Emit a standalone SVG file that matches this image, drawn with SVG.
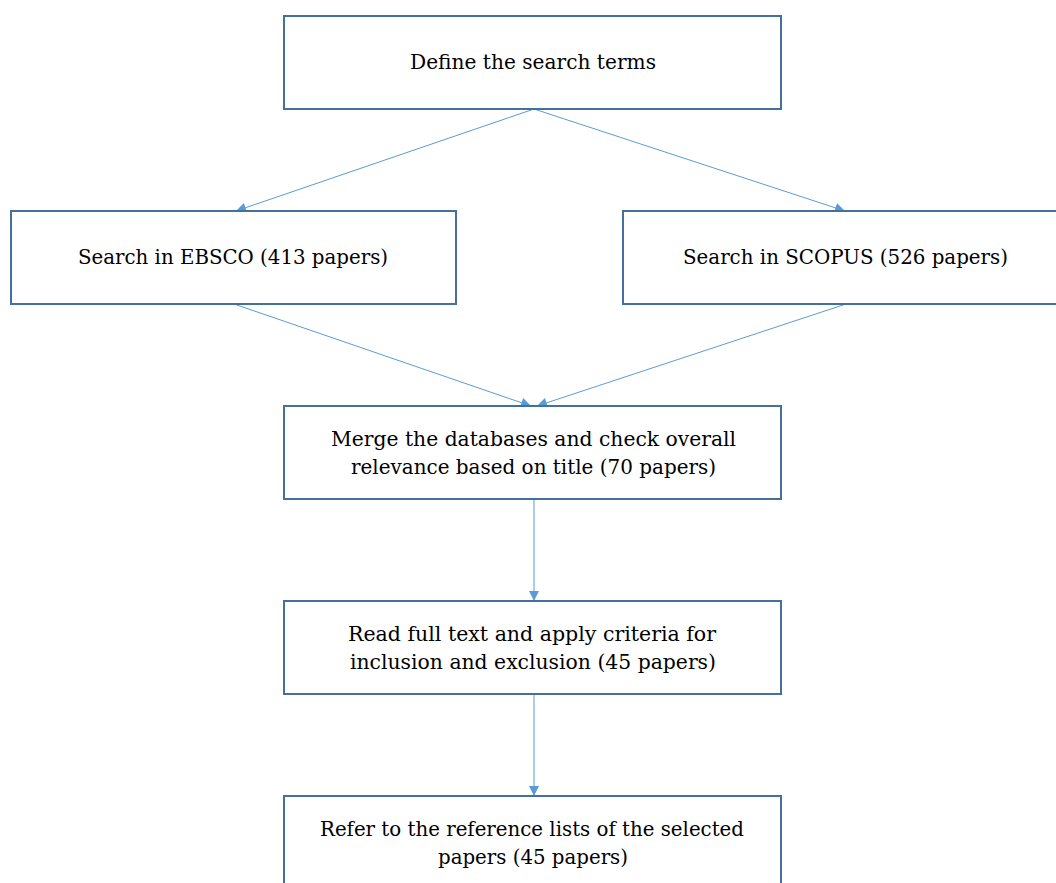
<svg xmlns="http://www.w3.org/2000/svg" width="1056" height="883" viewBox="0 0 1056 883">
<style>
.box{fill:#fff;stroke:#41719C;stroke-width:2}
.lbl{font-family:"DejaVu Serif","Liberation Serif",serif;font-size:19.5px;fill:#000;text-anchor:middle}
.con{stroke:#5B9BD5;stroke-width:1;fill:none;marker-end:url(#ah)}
</style>
<defs>
<marker id="ah" viewBox="0 0 10 10" refX="10" refY="5" markerWidth="11" markerHeight="10" markerUnits="userSpaceOnUse" orient="auto">
<path d="M0,0 L10,5 L0,10 Z" fill="#5B9BD5"/>
</marker>
</defs>
<rect width="1056" height="883" fill="#fff"/>
<g id="connectors">
<line class="con" x1="534" y1="109" x2="236" y2="211"/>
<line class="con" x1="534" y1="109" x2="845" y2="211"/>
<line class="con" x1="234" y1="304" x2="531" y2="406"/>
<line class="con" x1="846" y1="304" x2="537" y2="406"/>
<line class="con" x1="534" y1="499" x2="534" y2="601"/>
<line class="con" x1="534" y1="694" x2="534" y2="796"/>
</g>
<g id="n1"><rect class="box" x="284" y="16" width="497" height="93"/><text class="lbl" x="533" y="69" textLength="246" lengthAdjust="spacingAndGlyphs">Define the search terms</text></g>
<g id="n2"><rect class="box" x="11" y="211" width="445" height="93"/><text class="lbl" x="233" y="264" textLength="310" lengthAdjust="spacingAndGlyphs">Search in EBSCO (413 papers)</text></g>
<g id="n3"><rect class="box" x="623" y="211" width="440" height="93"/><text class="lbl" x="845.5" y="264" textLength="325" lengthAdjust="spacingAndGlyphs">Search in SCOPUS (526 papers)</text></g>
<g id="n4"><rect class="box" x="284" y="406" width="497" height="93"/><text class="lbl" x="533.5" y="446" textLength="405" lengthAdjust="spacingAndGlyphs">Merge the databases and check overall</text><text class="lbl" x="533.5" y="474" textLength="365" lengthAdjust="spacingAndGlyphs">relevance based on title (70 papers)</text></g>
<g id="n5"><rect class="box" x="284" y="601" width="497" height="93"/><text class="lbl" x="532" y="641" textLength="368" lengthAdjust="spacingAndGlyphs">Read full text and apply criteria for</text><text class="lbl" x="533" y="669" textLength="366" lengthAdjust="spacingAndGlyphs">inclusion and exclusion (45 papers)</text></g>
<g id="n6"><rect class="box" x="284" y="796" width="497" height="93"/><text class="lbl" x="532" y="836" textLength="424" lengthAdjust="spacingAndGlyphs">Refer to the reference lists of the selected</text><text class="lbl" x="533" y="864" textLength="190" lengthAdjust="spacingAndGlyphs">papers (45 papers)</text></g>
</svg>
